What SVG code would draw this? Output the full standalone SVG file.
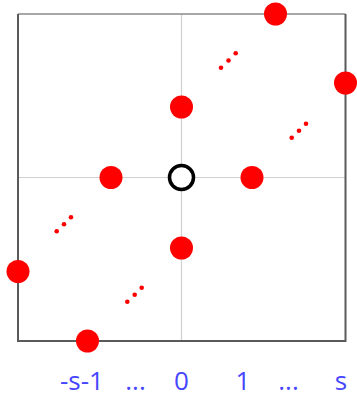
<svg xmlns="http://www.w3.org/2000/svg" width="357" height="396" viewBox="0 0 357 396">
<style>
.grid{stroke:#d0d0d0;stroke-width:1.2;fill:none}
.frame{stroke:#5a5a5a;stroke-width:2;fill:none}
.frametop{stroke:#8a8a8a;stroke-width:1.5;fill:none}
.pt{fill:#ff0000}
.dot{fill:#ff0000}
.origin{fill:#ffffff;stroke:#000000;stroke-width:3.5}
.lbl{font-family:"Open Sans","Noto Sans",sans-serif;font-size:26px;fill:#4646ff;text-anchor:middle}
</style>
<rect width="357" height="396" fill="#ffffff"/>
<g id="axes">
<line class="grid" x1="181.5" y1="14" x2="181.5" y2="341"/>
<line class="grid" x1="18" y1="177.5" x2="345.5" y2="177.5"/>
<line class="frametop" x1="18" y1="14" x2="345.5" y2="14"/>
<polyline class="frame" points="18,14 18,341 345.5,341 345.5,14"/>
</g>
<g id="connectors"></g>
<g id="origin"><circle class="origin" cx="181.5" cy="177.5" r="12"/></g>
<g id="p10"><circle class="pt" cx="252" cy="177.5" r="11.5"/></g>
<g id="pm10"><circle class="pt" cx="111" cy="177.5" r="11.5"/></g>
<g id="p01"><circle class="pt" cx="181.5" cy="107" r="11.5"/></g>
<g id="p0m1"><circle class="pt" cx="181.5" cy="248" r="11.5"/></g>
<g id="ptop"><circle class="pt" cx="275.5" cy="14" r="11.5"/></g>
<g id="pright"><circle class="pt" cx="345.5" cy="83" r="11.5"/></g>
<g id="pleft"><circle class="pt" cx="18" cy="271.5" r="11.5"/></g>
<g id="pbottom"><circle class="pt" cx="87.5" cy="341" r="11.5"/></g>
<g id="dots1"><circle class="dot" cx="221" cy="67.7" r="2.3"/><circle class="dot" cx="228.5" cy="60.5" r="2.3"/><circle class="dot" cx="235.7" cy="53.3" r="2.3"/></g>
<g id="dots2"><circle class="dot" cx="291.7" cy="137.7" r="2.3"/><circle class="dot" cx="299" cy="130.7" r="2.3"/><circle class="dot" cx="306" cy="123.7" r="2.3"/></g>
<g id="dots3"><circle class="dot" cx="56.7" cy="231.3" r="2.3"/><circle class="dot" cx="64" cy="224.3" r="2.3"/><circle class="dot" cx="71" cy="217.3" r="2.3"/></g>
<g id="dots4"><circle class="dot" cx="127.3" cy="301.7" r="2.3"/><circle class="dot" cx="134.7" cy="294.7" r="2.3"/><circle class="dot" cx="141.7" cy="287.7" r="2.3"/></g>
<g id="labels">
<text class="lbl" x="82" y="389.5">-s-1</text>
<text class="lbl" x="135.5" y="389.5">...</text>
<text class="lbl" x="181.5" y="389.5">0</text>
<text class="lbl" x="243" y="389.5">1</text>
<text class="lbl" x="288.5" y="389.5">...</text>
<text class="lbl" x="341" y="389.5">s</text>
</g>
</svg>
